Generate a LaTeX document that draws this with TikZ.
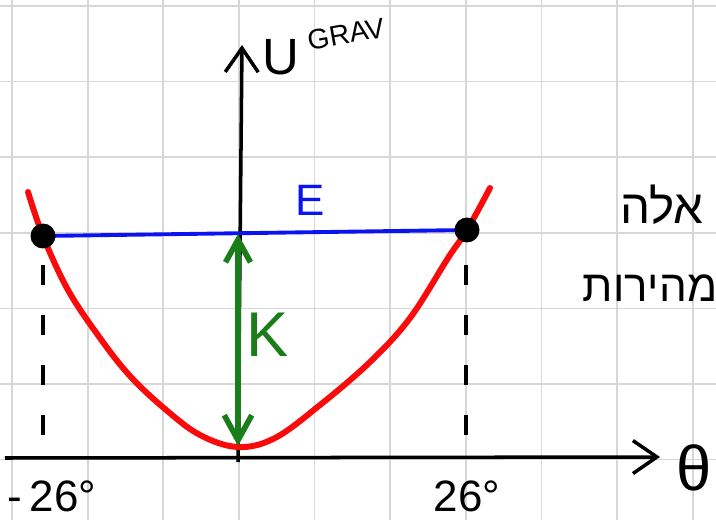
\documentclass[tikz,border=0pt]{standalone}
\usepackage{fontspec}
\setmainfont{Liberation Sans}
\newfontfamily\hebfont[Script=Hebrew]{Liberation Sans}
\TeXXeTstate=1
\usetikzlibrary{arrows.meta,positioning}
\definecolor{penred}{RGB}{250,10,10}
\definecolor{penblue}{RGB}{10,20,240}
\definecolor{pengreen}{RGB}{25,125,25}
\definecolor{paper}{RGB}{215,215,215}
\newcommand{\fsz}[1]{\fontsize{#1}{#1}\selectfont}

\begin{document}
\begin{tikzpicture}[x=0.02cm,y=-0.02cm,
    axis/.style={line width=2pt,-{Straight Barb[length=0.48cm,width=0.66cm]}},
    dot/.style={circle,fill=black,inner sep=0pt,minimum size=0.5cm}]
  \useasboundingbox (0,0) rectangle (716,520);
  % squared paper
  \foreach \k in {0,...,9}{
    \draw[paper,line width=1pt] (12+75.65*\k,0) -- (12+75.65*\k,520);
  }
  \foreach \k in {0,...,6}{
    \draw[paper,line width=1pt] (0,6+75.6*\k) -- (716,6+75.6*\k);
  }
  % axes
  \coordinate (xfrom) at (5,458);
  \coordinate (xto) at (660,457);
  \coordinate (yfrom) at (238,462);
  \coordinate (yto) at (242,45);
  \draw[axis] (xfrom) -- (xto);
  \draw[axis] (yfrom) -- (yto);
  \node[font=\fsz{36},inner sep=1pt] (theta) at (694,468) {θ};
  \node[font=\fsz{29}] (U) at (281,57) {U};
  \node[font=\fsz{16},rotate=10] (grav) at (346,34) {GRAV};
  % potential
  \draw[penred,line width=3.4pt,line cap=round] plot[smooth,tension=0.6] coordinates {
    (28,192) (43,236) (68,290) (100,338) (130,376) (165,409) (200,435)
    (238,447) (275,438) (320,405) (370,362) (410,318) (448,258) (467,230) (490,188)};
  % turning points
  \coordinate (L) at (43,236);
  \coordinate (R) at (467,230);
  \draw[penblue,line width=2.2pt] (L) -- (R);
  \node[dot] (dotL) at (L) {};
  \node[dot] (dotR) at (R) {};
  \node[font=\fsz{25},text=penblue] (E) at (310,200) {E};
  \foreach \p/\n in {43/L,466/R}{
    \coordinate (top\n) at (\p,265);
    \coordinate (bot\n) at (\p,440);
    \draw[line width=2pt,dash pattern=on 0.4cm off 0.6cm] (top\n) -- (bot\n);
  }
  \node[font=\fsz{25}] (mL) at (52,496) {-\,26°};
  \node[font=\fsz{25}] (mR) at (467,496) {26°};
  % kinetic energy
  \coordinate (Etop) at (238,234);
  \coordinate (Kbot) at (238,446);
  \draw[pengreen,line width=3.2pt,{Straight Barb[length=0.45cm,width=0.5cm]}-{Straight Barb[length=0.5cm,width=0.55cm]}] (Etop) -- (Kbot);
  \node[font=\fsz{36},text=pengreen] (K) at (268,335) {K};
  % note
  \node[font=\fsz{27}] (note1) at (662,205) {\hebfont\beginR אלה\endR};
  \node[font=\fsz{25}] (note2) at (650,288) {\hebfont\beginR מהירות\endR};
\end{tikzpicture}
\end{document}
